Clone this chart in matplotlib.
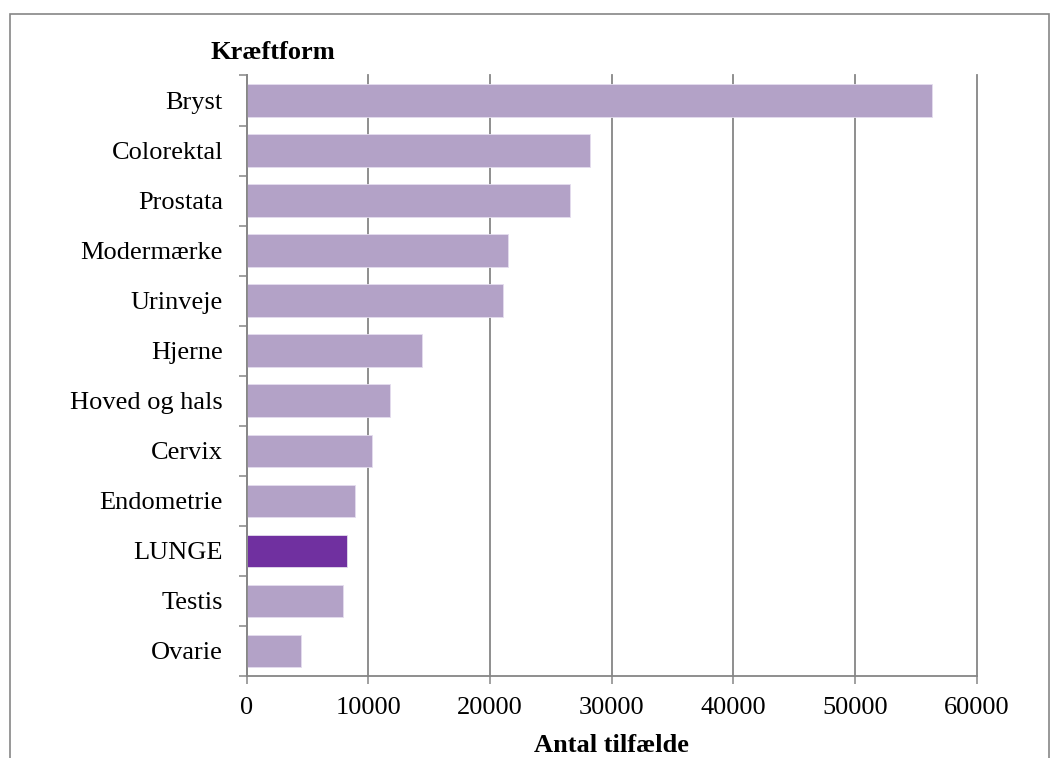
import matplotlib
matplotlib.use("Agg")
import matplotlib.pyplot as plt
from matplotlib.patches import Rectangle
import numpy as np

plt.rcParams['font.family'] = ['Liberation Serif', 'DejaVu Serif']

categories = ["Bryst", "Colorektal", "Prostata", "Modermærke", "Urinveje", "Hjerne",
              "Hoved og hals", "Cervix", "Endometrie", "LUNGE", "Testis", "Ovarie"]
cases = [56300, 28200, 26600, 21500, 21100, 14400, 11800, 10300, 8900, 8250, 7900, 4500]
highlight = "LUNGE"
x_ticks = [0, 10000, 20000, 30000, 40000, 50000, 60000]

base_color = "#B3A2C7"
highlight_color = "#7030A0"
grid_color = "#868686"
fs = 19

fig = plt.figure(figsize=(10.6, 7.58), dpi=100)
ax = fig.add_axes([0.2326, 0.1082, 0.9213 - 0.2326, 0.9004 - 0.1082])

pos = np.arange(len(categories))
colors = [highlight_color if c == highlight else base_color for c in categories]
ax.barh(pos, cases, height=0.65, color=colors, edgecolor="#E4DDEE", linewidth=0.6, zorder=3)

ax.set_ylim(len(categories) - 0.5, -0.5)
ax.set_xlim(0, 60000)
ax.set_yticks(pos)
ax.set_yticklabels(categories)
ax.set_yticks(np.arange(-0.5, len(categories), 1.0), minor=True)
ax.set_xticks(x_ticks)
ax.set_xticklabels([str(t) for t in x_ticks])

ax.tick_params(axis='y', which='major', length=0, pad=17, labelsize=fs)
ax.tick_params(axis='y', which='minor', length=6, width=1.1, color=grid_color, direction='out')
ax.tick_params(axis='x', which='major', length=6, width=1.1, color=grid_color, pad=9, labelsize=fs)

ax.xaxis.grid(True, color=grid_color, linewidth=1.3, zorder=0)
for gl in ax.get_xgridlines():
    gl.set_clip_on(False)
ax.set_axisbelow(True)
for side in ("top", "right"):
    ax.spines[side].set_visible(False)
for side in ("left", "bottom"):
    ax.spines[side].set_color(grid_color)
    ax.spines[side].set_linewidth(1.3)
    ax.spines[side].set_zorder(4)

ax.set_xlabel("Antal tilfælde", fontsize=fs, fontweight='bold', labelpad=11)
fig.text(0.2575, 0.931, "Kræftform", fontsize=fs, fontweight='bold', ha='center', va='center')

# chart frame
fig.patches.append(Rectangle((10 / 1060, -0.05), (1049 - 10) / 1060, 1.05 - 14 / 758,
                             transform=fig.transFigure, fill=False,
                             edgecolor=grid_color, linewidth=1.2))

fig.savefig("out.png", dpi=100)
